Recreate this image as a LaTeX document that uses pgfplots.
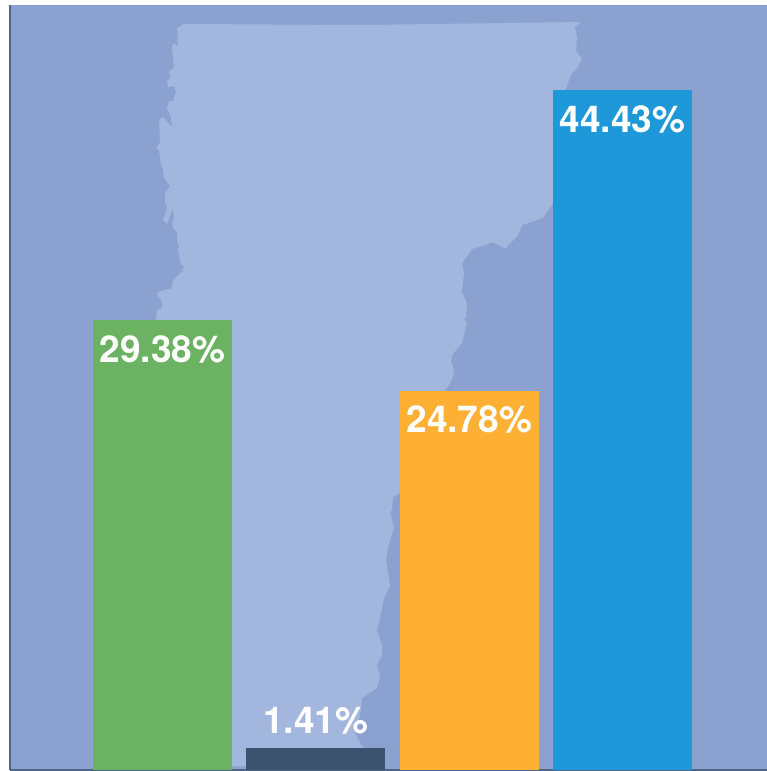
\documentclass[border=0pt]{standalone}
\usepackage{pgfplots}
\pgfplotsset{compat=1.18}
\usepackage{fontspec}
\setmainfont{TeX Gyre Heros}
\definecolor{bgblue}{HTML}{8BA2D0}
\definecolor{stateblue}{HTML}{A3B6DD}
\definecolor{axisline}{HTML}{4F6586}
\definecolor{cgreen}{HTML}{6BB363}
\definecolor{cnavy}{HTML}{3D526F}
\definecolor{corange}{HTML}{FDB033}
\definecolor{cblue}{HTML}{1E98D8}
\begin{document}
\begin{tikzpicture}[x=1pt,y=1pt]
\path[use as bounding box] (0,0) rectangle (767,771);
% Vermont silhouette, in the picture's pixel coordinates
\begin{axis}[at={(10pt,1pt)},anchor=south west,scale only axis,width=757pt,height=765pt,
  xmin=10,xmax=767,ymin=5,ymax=770,y dir=reverse,ticks=none,axis line style={draw=none},
  axis background/.style={fill=bgblue}]
\addplot[fill=stateblue,draw=none] coordinates {
(184,24)(360,25)(581,22)(575,27)(577,37)(576,51)(582,59)(577,68)(571,74)(568,83)(565,90)
(560,120)(555,180)(553,203)(543,218)(522,225)(517,237)(508,245)(506,249)(493,242)(485,245)(472,249)
(468,255)(462,263)(464,273)(462,292)(467,303)(466,317)(464,319)(467,323)(462,343)(452,355)(451,362)
(454,370)(452,380)(444,392)(420,450)(400,493)(393,497)(392,510)(390,512)(394,528)(388,547)(386,560)
(390,586)(384,598)(380,618)(377,630)(382,645)(382,655)(377,665)(380,677)(377,688)(362,698)(361,710)
(356,735)(363,748)(355,766)(232,766)(150,766)(156,321)(157,310)(162,308)(162,302)(157,295)(158,292)
(172,288)(173,280)(182,272)(184,266)(181,265)(178,250)(179,246)(177,240)(177,233)(173,228)
(172,223)(174,218)(173,208)(167,224)(163,220)(167,208)(165,202)(165,193)(170,186)
(164,178)(163,168)(161,165)(159,150)(156,148)(160,143)(159,120)(163,117)(172,127)(171,117)(167,108)
(169,101)(173,101)(176,92)(174,86)(168,87)(167,81)(171,77)(169,72)(174,67)(172,47)(174,43)(178,47)
(177,28)
} -- cycle;
\end{axis}
\begin{axis}[at={(10pt,1pt)},anchor=south west,scale only axis,width=757pt,height=765pt,
  xmin=-0.9946,xmax=3.9425,ymin=0,ymax=50,
  axis x line=bottom,axis y line=left,ticks=none,
  axis line style={draw=axisline,line width=1.8pt,-},
  ybar,bar width=139pt,bar shift=0pt,clip=false,
  point meta=y,
  nodes near coords={\pgfmathprintnumber[fixed,fixed zerofill,precision=2]{\pgfplotspointmeta}\%},
  every node near coord/.append style={text=white,font=\fontsize{37}{37}\selectfont\bfseries,
    /pgf/number format/assume math mode=true},
  nodes near coords align={anchor=north,yshift=-11.5pt}]
\addplot[fill=cgreen,draw=none] coordinates {(0,29.38)};
\addplot[fill=cnavy,draw=none,
  nodes near coords align={anchor=south,yshift=11pt}] coordinates {(1,1.41)};
\addplot[fill=corange,draw=none] coordinates {(2,24.78)};
\addplot[fill=cblue,draw=none] coordinates {(3,44.43)};
\end{axis}
\end{tikzpicture}
\end{document}
